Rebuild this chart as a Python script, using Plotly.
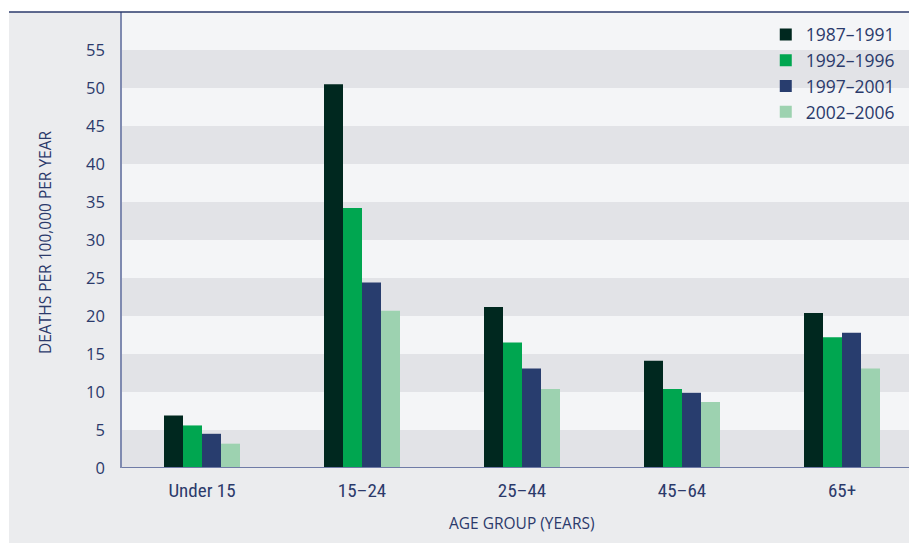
import plotly.graph_objects as go

categories = ["Under 15", "15–24", "25–44", "45–64", "65+"]
series_names = ["1987–1991", "1992–1996", "1997–2001", "2002–2006"]
v1987 = [6.9, 50.5, 21.2, 14.1, 20.4]
v1992 = [5.6, 34.2, 16.5, 10.4, 17.2]
v1997 = [4.5, 24.4, 13.1, 9.9, 17.8]
v2002 = [3.2, 20.7, 10.4, 8.7, 13.1]
colors = ["#00281f", "#00a650", "#283d6e", "#9dd2b0"]
y_ticks = list(range(0, 60, 5))

TXT = "#2b3a6b"
FONT = "Open Sans, Noto Sans, sans-serif"

fig = go.Figure()
for name, vals, col in zip(series_names, [v1987, v1992, v1997, v2002], colors):
    fig.add_trace(go.Bar(x=categories, y=vals, name=name, marker=dict(color=col, line=dict(width=0))))

W, H = 909, 543
L, R, T, B = 122, 0, 12, 75
pw = W - L - R
ph = H - T - B

shapes = []
shapes.append(dict(type="rect", xref="paper", yref="paper", x0=-L / pw, x1=-(L - 9) / pw, y0=-B / ph, y1=1 + T / ph,
                   fillcolor="white", line=dict(width=0), layer="below"))
shapes.append(dict(type="rect", xref="paper", yref="paper", x0=-L / pw, x1=1.0, y0=1, y1=1 + T / ph,
                   fillcolor="white", line=dict(width=0), layer="below"))
for lo in range(0, 55, 10):
    shapes.append(dict(type="rect", xref="paper", yref="y", x0=0, x1=1, y0=lo, y1=lo + 5,
                       fillcolor="#e2e3e7", line=dict(width=0), layer="below"))
shapes.append(dict(type="line", xref="paper", yref="paper", x0=-(L - 9) / pw, x1=1.0, y0=1, y1=1,
                   line=dict(color="#2b3a6b", width=1.5)))

fig.update_layout(
    width=W, height=H,
    margin=dict(l=L, r=R, t=T, b=B, pad=0),
    paper_bgcolor="#ebecee",
    plot_bgcolor="#f4f5f7",
    barmode="group",
    bargap=0.525,
    bargroupgap=0,
    font=dict(family=FONT, color=TXT, size=16),
    shapes=shapes,
    showlegend=True,
    legend=dict(x=0.818, y=0.99, xanchor="left", yanchor="top", bgcolor="rgba(0,0,0,0)",
                font=dict(size=17.5, color=TXT), tracegroupgap=0, itemwidth=30),
    xaxis=dict(range=[-0.5, -0.5 + pw / 160], showgrid=False, zeroline=False, showline=False,
               ticks="outside", ticklen=5, tickcolor="rgba(0,0,0,0)",
               tickfont=dict(size=19, color=TXT, family="Liberation Sans Narrow, Roboto Condensed, Open Sans, sans-serif")),
    yaxis=dict(range=[0, 60], tickvals=y_ticks, showgrid=False, zeroline=False,
               showline=True, linecolor="#7f8ab0", linewidth=1.5,
               ticks="outside", ticklen=12, tickcolor="rgba(0,0,0,0)",
               tickfont=dict(size=16.5, color=TXT)),
    annotations=[
        dict(text="DEATHS PER 100,000 PER YEAR", xref="paper", yref="paper", x=(45 - L) / pw, y=0.5 - (242 - (T + ph / 2)) / ph,
             showarrow=False, textangle=-90, font=dict(size=15.5, color=TXT), xanchor="center", yanchor="middle"),
        dict(text="AGE GROUP (YEARS)", xref="paper", yref="paper", x=(522 - L) / pw, y=-(523 - (T + ph)) / ph,
             showarrow=False, font=dict(size=15.5, color=TXT), xanchor="center", yanchor="middle"),
    ],
)
fig.add_shape(type="line", xref="paper", yref="y", x0=0, x1=1, y0=0, y1=0, line=dict(color="#6f7ba6", width=2))

fig.write_html("out.html")
